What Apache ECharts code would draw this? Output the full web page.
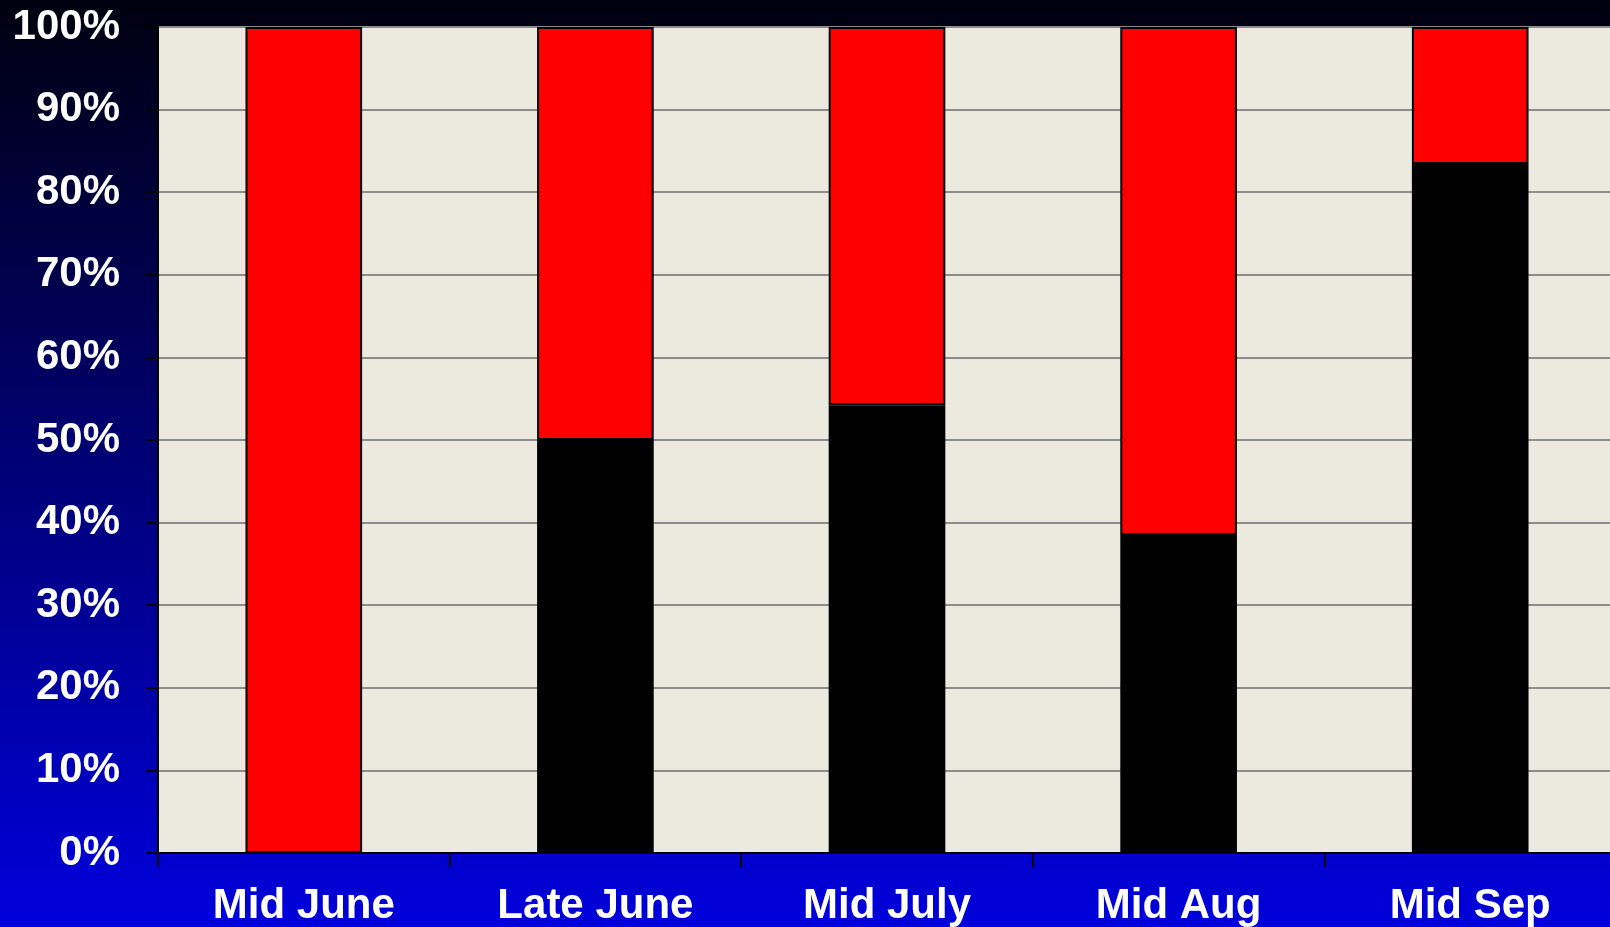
<!DOCTYPE html>
<html>
<head>
<meta charset="utf-8">
<script src="https://cdn.jsdelivr.net/npm/echarts@6/dist/echarts.min.js"></script>
<style>
html,body{margin:0;padding:0;width:1610px;height:927px;overflow:hidden;}
#chart{width:1610px;height:927px;}
</style>
</head>
<body>
<div id="chart"></div>
<script>
const categories = ['Mid June', 'Late June', 'Mid July', 'Mid Aug', 'Mid Sep'];
const blackValues = [0, 50, 54.2, 38.5, 83.4];
const redValues = [100, 50, 45.8, 61.5, 16.6];
const yTicks = [0, 10, 20, 30, 40, 50, 60, 70, 80, 90, 100];

const chart = echarts.init(document.getElementById('chart'), null, {renderer: 'canvas'});
const font = '"Liberation Sans", Arial, sans-serif';
chart.setOption({
  backgroundColor: {
    type: 'linear', x: 0, y: 0, x2: 0, y2: 1,
    colorStops: [{offset: 0, color: '#00000f'}, {offset: 1, color: '#0000dc'}]
  },
  animation: false,
  grid: {
    left: 158, top: 27, width: 1458, bottom: 74,
    outerBoundsMode: 'none',
    show: true, backgroundColor: '#ecE9df', borderWidth: 0
  },
  xAxis: {
    type: 'category',
    data: categories,
    axisLine: {lineStyle: {color: '#000', width: 2}},
    axisTick: {show: true, length: 14, lineStyle: {color: '#000', width: 2}},
    axisLabel: {color: '#fff', fontSize: 42, fontWeight: 'bold', fontFamily: font, margin: 32, interval: 0}
  },
  yAxis: {
    type: 'value',
    min: yTicks[0], max: yTicks[yTicks.length - 1], interval: 10,
    axisLine: {show: true, lineStyle: {color: '#000', width: 2}},
    axisTick: {show: true, length: 12, lineStyle: {color: '#000', width: 2}},
    axisLabel: {color: '#fff', fontSize: 42, fontWeight: 'bold', fontFamily: font, margin: 38, formatter: '{value}%'},
    splitLine: {show: true, lineStyle: {color: '#8c8c8c', width: 2}}
  },
  series: [
    {
      type: 'bar', stack: 'a', data: blackValues, barWidth: '40%',
      itemStyle: {color: '#000', borderColor: '#000', borderWidth: 1.5}
    },
    {
      type: 'bar', stack: 'a', data: redValues, barWidth: '40%',
      itemStyle: {color: '#ff0000', borderColor: '#000', borderWidth: 2}
    }
  ]
});
</script>
</body>
</html>
